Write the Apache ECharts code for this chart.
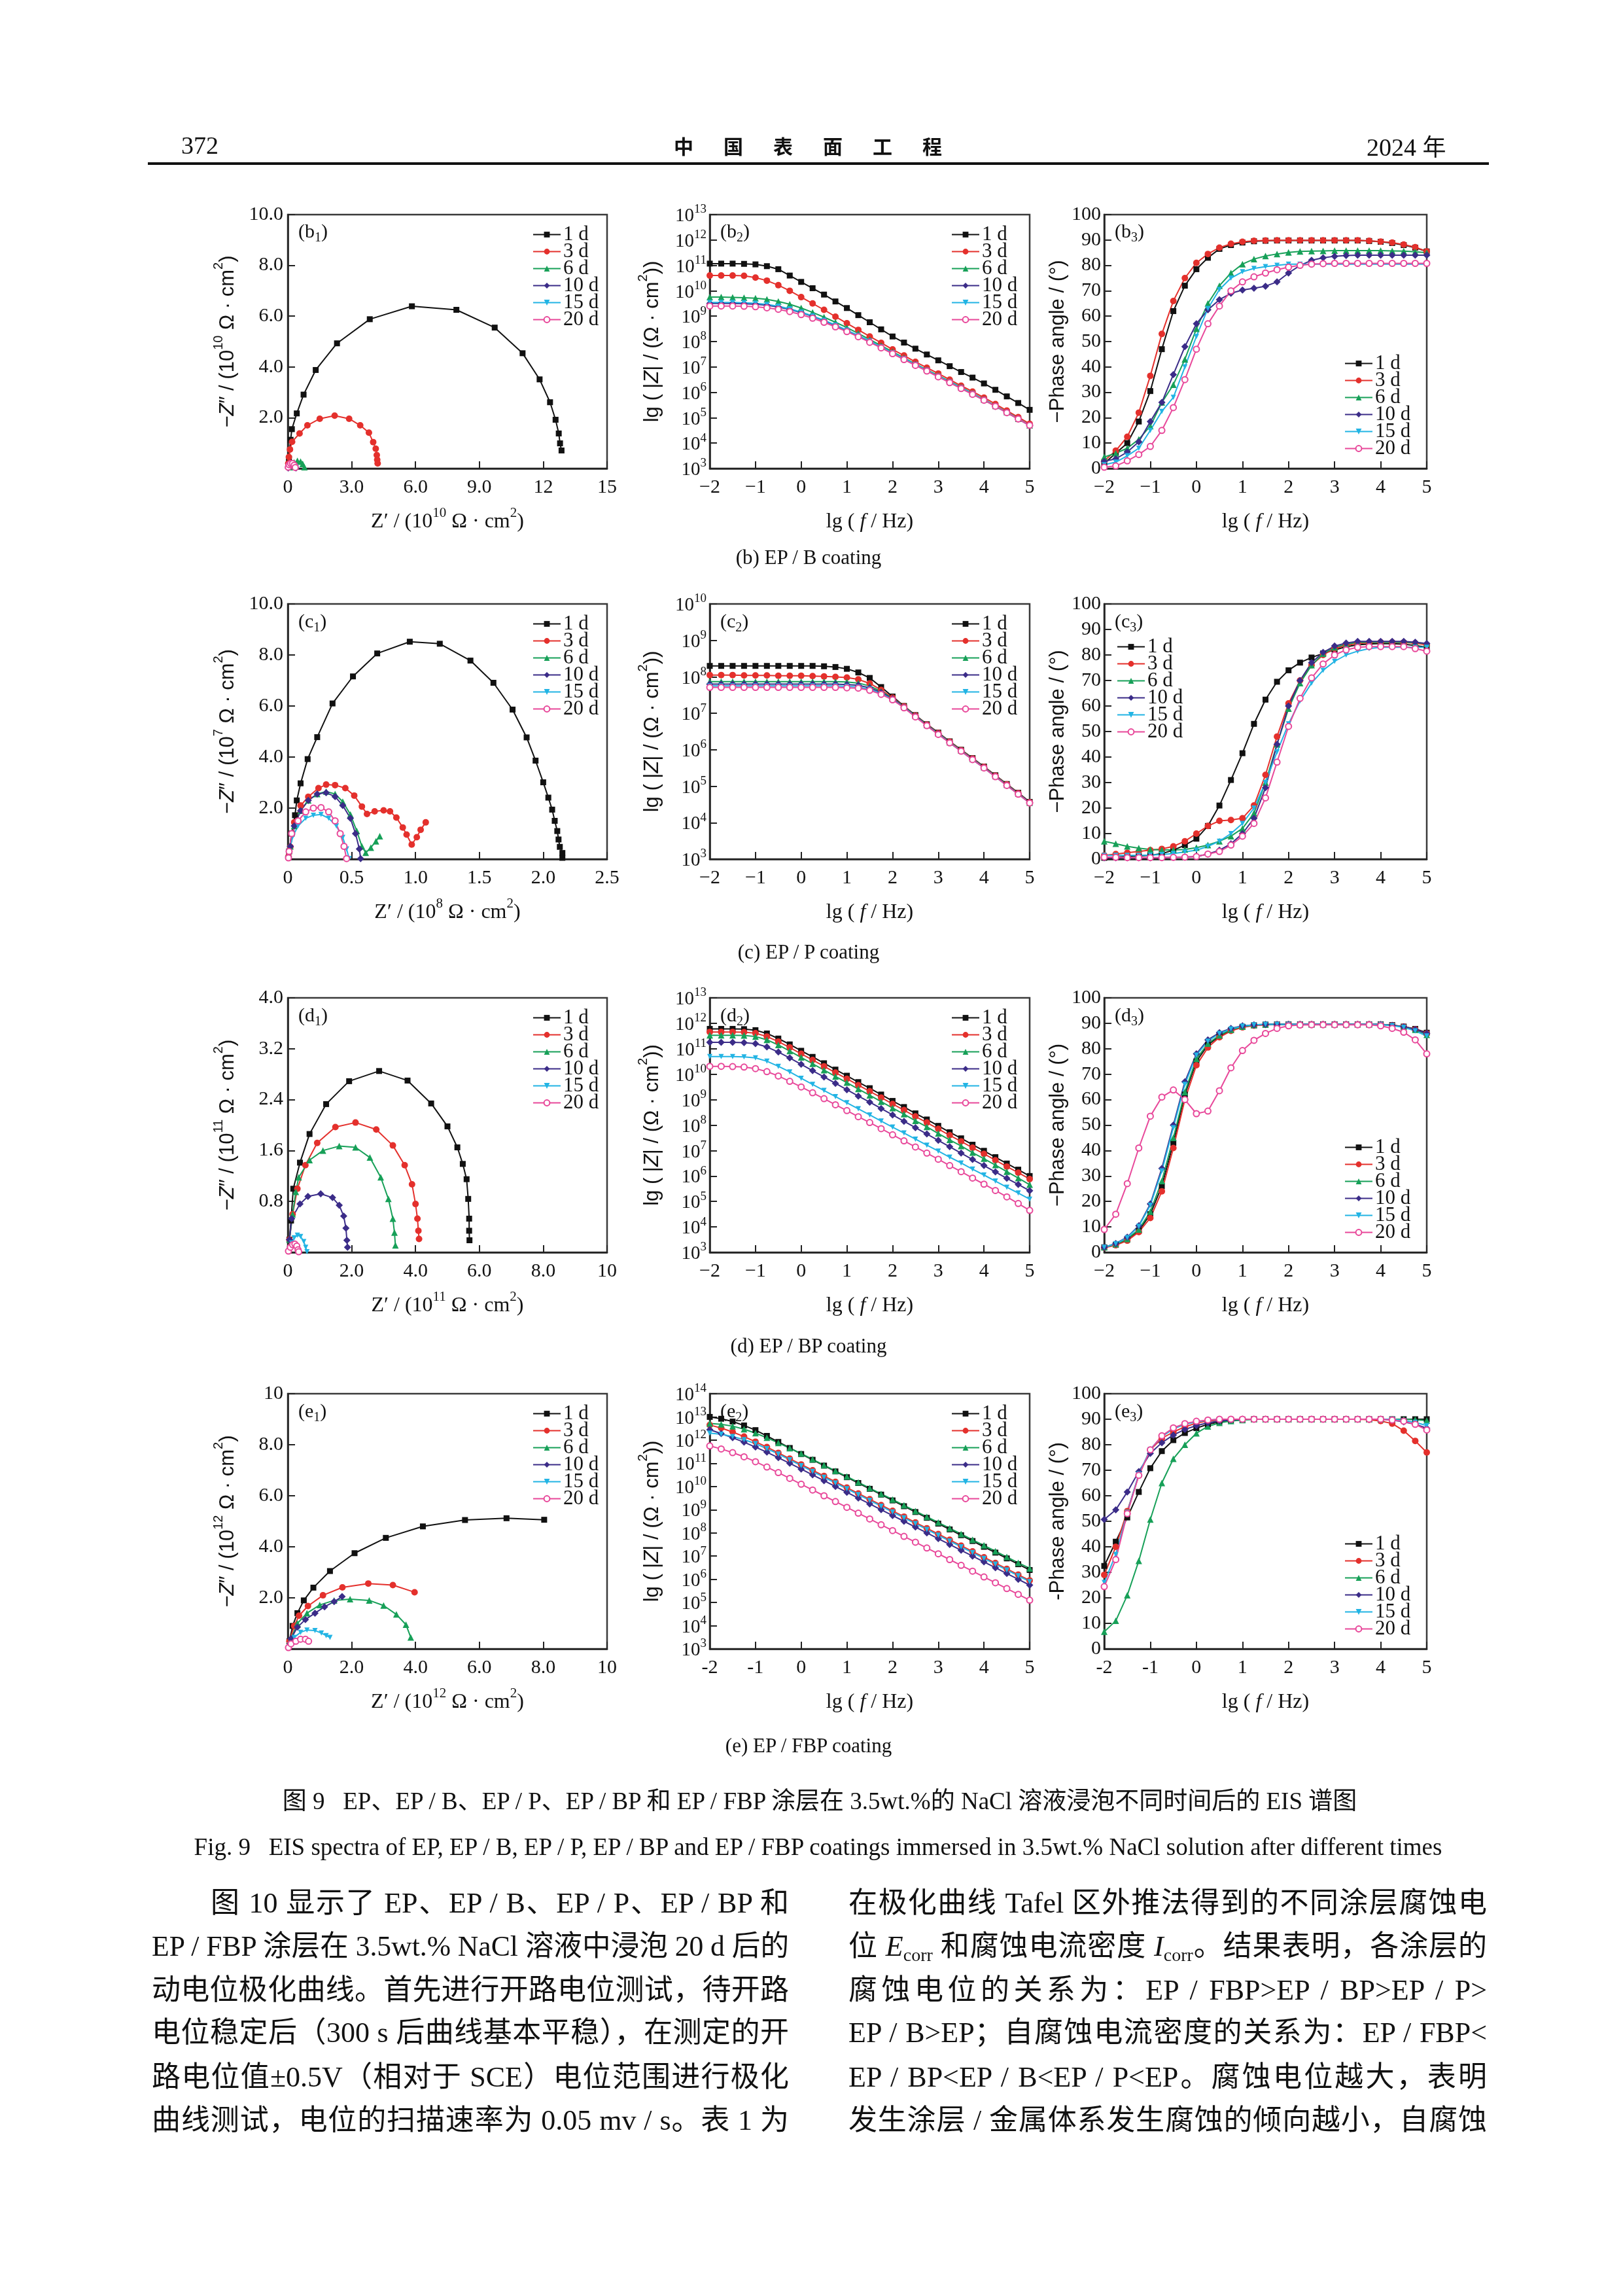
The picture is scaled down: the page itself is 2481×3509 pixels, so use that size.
<!DOCTYPE html>
<html lang="zh">
<head>
<meta charset="utf-8">
<title>EIS spectra</title>
<script src="https://cdn.jsdelivr.net/npm/echarts@6/dist/echarts.min.js"></script>
<style>
  html, body { margin: 0; padding: 0; background: #fff; }
  #page { position: relative; width: 2481px; height: 3509px; overflow: hidden; color: #111;
          font-family: "Liberation Serif", "Noto Sans CJK SC", serif; }
  #chart { position: absolute; left: 0; top: 0; width: 2481px; height: 3509px; }
  .t { position: absolute; white-space: nowrap; z-index: 2; }
  .fit span { display: inline-block; white-space: nowrap; transform-origin: 0 50%; }
  .cjk { font-family: "Noto Sans CJK SC", sans-serif; }
  .body { font-size: 44px; line-height: 66px; }
  .plab { font-size: 30px; line-height: 32px; }
  .plab sub { font-size: 20px; vertical-align: -6px; line-height: 0; }
  .body sub { font-size: 28px; vertical-align: -8px; line-height: 0; }
  .cap { font-size: 31px; line-height: 36px; left: 636px; width: 1200px; text-align: center; }
</style>
</head>
<body>
<div id="page">
  <div id="chart"></div>

  <!-- running head -->
  <div class="t" style="left:277px;top:200px;font-size:38px;line-height:44px;">372</div>
  <div class="t cjk" style="left:1030px;top:202px;font-size:30px;line-height:40px;font-weight:bold;letter-spacing:46px;">中国表面工程</div>
  <div class="t" style="left:2089px;top:200px;font-size:38px;line-height:44px;">2024 <span class="cjk" style="font-size:36px;">年</span></div>
  <div class="t" style="left:226px;top:248px;width:2050px;height:4px;background:#111;"></div>

  <!-- panel labels -->
  <div class="t plab" style="left:456px;top:337px;">(b<sub>1</sub>)</div>
  <div class="t plab" style="left:1101px;top:337px;">(b<sub>2</sub>)</div>
  <div class="t plab" style="left:1704px;top:337px;">(b<sub>3</sub>)</div>
  <div class="t plab" style="left:456px;top:933px;">(c<sub>1</sub>)</div>
  <div class="t plab" style="left:1101px;top:933px;">(c<sub>2</sub>)</div>
  <div class="t plab" style="left:1704px;top:933px;">(c<sub>3</sub>)</div>
  <div class="t plab" style="left:456px;top:1535px;">(d<sub>1</sub>)</div>
  <div class="t plab" style="left:1101px;top:1535px;">(d<sub>2</sub>)</div>
  <div class="t plab" style="left:1704px;top:1535px;">(d<sub>3</sub>)</div>
  <div class="t plab" style="left:456px;top:2140px;">(e<sub>1</sub>)</div>
  <div class="t plab" style="left:1101px;top:2140px;">(e<sub>2</sub>)</div>
  <div class="t plab" style="left:1704px;top:2140px;">(e<sub>3</sub>)</div>

  <!-- row captions -->
  <div class="t cap" style="top:834px;">(b) EP / B coating</div>
  <div class="t cap" style="top:1437px;">(c) EP / P coating</div>
  <div class="t cap" style="top:2039px;">(d) EP / BP coating</div>
  <div class="t cap" style="top:2650px;">(e) EP / FBP coating</div>

  <!-- figure captions -->
  <div class="t fit" style="left:408px;width:1690px;top:2731px;font-size:37px;line-height:44px;"><span>图 9&nbsp;&nbsp;&nbsp;EP、EP / B、EP / P、EP / BP 和 EP / FBP 涂层在 3.5wt.%的 NaCl 溶液浸泡不同时间后的 EIS 谱图</span></div>
  <div class="t fit" style="left:273px;width:1955px;top:2801px;font-size:37px;line-height:44px;"><span>Fig. 9&nbsp;&nbsp;&nbsp;EIS spectra of EP, EP / B, EP / P, EP / BP and EP / FBP coatings immersed in 3.5wt.% NaCl solution after different times</span></div>

  <!-- body text, left column -->
  <div class="t fit body" style="left:322px;width:884px;top:2876px;"><span>图 10 显示了 EP、EP / B、EP / P、EP / BP 和</span></div>
  <div class="t fit body" style="left:232px;width:974px;top:2942px;"><span>EP / FBP 涂层在 3.5wt.% NaCl 溶液中浸泡 20 d 后的</span></div>
  <div class="t fit body" style="left:232px;width:974px;top:3009px;"><span>动电位极化曲线。首先进行开路电位测试，待开路</span></div>
  <div class="t fit body" style="left:232px;width:974px;top:3074px;"><span>电位稳定后（300 s 后曲线基本平稳），在测定的开</span></div>
  <div class="t fit body" style="left:232px;width:974px;top:3142px;"><span>路电位值±0.5V（相对于 SCE）电位范围进行极化</span></div>
  <div class="t fit body" style="left:232px;width:974px;top:3208px;"><span>曲线测试，电位的扫描速率为 0.05 mv / s。表 1 为</span></div>

  <!-- body text, right column -->
  <div class="t fit body" style="left:1297px;width:976px;top:2876px;"><span>在极化曲线 Tafel 区外推法得到的不同涂层腐蚀电</span></div>
  <div class="t fit body" style="left:1297px;width:976px;top:2942px;"><span>位 <i>E</i><sub>corr</sub> 和腐蚀电流密度 <i>I</i><sub>corr</sub>。结果表明，各涂层的</span></div>
  <div class="t fit body" style="left:1297px;width:976px;top:3009px;"><span>腐蚀电位的关系为：EP / FBP&gt;EP / BP&gt;EP / P&gt;</span></div>
  <div class="t fit body" style="left:1297px;width:976px;top:3074px;"><span>EP / B&gt;EP；自腐蚀电流密度的关系为：EP / FBP&lt;</span></div>
  <div class="t fit body" style="left:1297px;width:976px;top:3142px;"><span>EP / BP&lt;EP / B&lt;EP / P&lt;EP。腐蚀电位越大，表明</span></div>
  <div class="t fit body" style="left:1297px;width:976px;top:3208px;"><span>发生涂层 / 金属体系发生腐蚀的倾向越小，自腐蚀</span></div>
</div>

<script>
// ---------- data ----------
const days = ['1 d', '3 d', '6 d', '10 d', '15 d', '20 d'];

// frequency grid of the Bode plots, lg(f/Hz)
const lgF = [-2, -1.75, -1.5, -1.25, -1, -0.75, -0.5, -0.25, 0, 0.25, 0.5, 0.75, 1, 1.25, 1.5,
  1.75, 2, 2.25, 2.5, 2.75, 3, 3.25, 3.5, 3.75, 4, 4.25, 4.5, 4.75, 5];

// (b) EP/B : Nyquist, Z' and -Z'' in 1e10 ohm cm2
const b1_1d = [[0.05, 0.4], [0.13, 1.13], [0.19, 1.55], [0.42, 2.17], [0.74, 2.91], [1.31, 3.88], [2.31, 4.93], [3.85, 5.88], [5.83, 6.39], [7.92, 6.25], [9.72, 5.55], [11.03, 4.54], [11.83, 3.51], [12.32, 2.61], [12.58, 1.92], [12.73, 1.38], [12.79, 0.99], [12.86, 0.71]];
const b1_3d = [[0.02, 0.2], [0.05, 0.45], [0.1, 0.75], [0.2, 1.05], [0.55, 1.38], [0.92, 1.7], [1.5, 1.96], [2.2, 2.08], [2.88, 1.96], [3.4, 1.7], [3.81, 1.41], [4.01, 1.04], [4.13, 0.78], [4.18, 0.53], [4.2, 0.34], [4.22, 0.2]];
const b1_6d = [[0.1, 0.05], [0.2, 0.15], [0.3, 0.24], [0.45, 0.3], [0.6, 0.27], [0.7, 0.18], [0.78, 0.05]];
const b1_10d = [[0.02, 0.02], [0.08, 0.08], [0.15, 0.12], [0.25, 0.13], [0.33, 0.08], [0.38, 0.02]];
const b1_15d = [[0.02, 0.03], [0.08, 0.1], [0.16, 0.15], [0.26, 0.15], [0.34, 0.1], [0.4, 0.03]];
const b1_20d = [[0.02, 0.05], [0.06, 0.15], [0.13, 0.2], [0.22, 0.2], [0.3, 0.13], [0.35, 0.04]];
// (b) Bode |Z|, lg(|Z|)
const b2_1d = [11.07, 11.07, 11.07, 11.06, 11.04, 10.97, 10.85, 10.6, 10.35, 10.1, 9.85, 9.58, 9.32, 9.04, 8.76, 8.48, 8.2, 7.96, 7.72, 7.49, 7.26, 7.03, 6.8, 6.58, 6.35, 6.1, 5.84, 5.58, 5.31];
const b2_3d = [10.6, 10.6, 10.6, 10.59, 10.52, 10.4, 10.22, 10.0, 9.75, 9.5, 9.25, 8.98, 8.72, 8.46, 8.2, 7.95, 7.69, 7.45, 7.2, 6.97, 6.74, 6.5, 6.26, 6.03, 5.79, 5.54, 5.28, 5.02, 4.76];
const b2_6d = [9.75, 9.75, 9.74, 9.73, 9.71, 9.66, 9.58, 9.47, 9.32, 9.15, 8.96, 8.76, 8.55, 8.32, 8.08, 7.84, 7.6, 7.36, 7.12, 6.89, 6.66, 6.43, 6.2, 5.96, 5.72, 5.47, 5.22, 4.96, 4.7];
const b2_10d = [9.5, 9.5, 9.5, 9.49, 9.47, 9.43, 9.36, 9.26, 9.14, 8.99, 8.82, 8.63, 8.43, 8.22, 8.0, 7.77, 7.54, 7.31, 7.08, 6.85, 6.62, 6.39, 6.16, 5.93, 5.7, 5.45, 5.2, 4.95, 4.69];
const b2_15d = [9.54, 9.54, 9.54, 9.53, 9.51, 9.46, 9.39, 9.29, 9.16, 9.01, 8.84, 8.65, 8.45, 8.24, 8.02, 7.79, 7.56, 7.33, 7.1, 6.87, 6.64, 6.41, 6.18, 5.95, 5.71, 5.46, 5.21, 4.96, 4.7];
const b2_20d = [9.4, 9.4, 9.4, 9.39, 9.37, 9.33, 9.27, 9.18, 9.06, 8.92, 8.76, 8.58, 8.39, 8.19, 7.97, 7.75, 7.52, 7.29, 7.06, 6.84, 6.61, 6.38, 6.15, 5.92, 5.69, 5.45, 5.2, 4.95, 4.7];
// (b) Bode phase, degrees
const b3_1d = [2, 6, 10, 18.5, 30.5, 47, 62, 72, 78.5, 83, 86.5, 88, 89, 89.5, 89.7, 89.8, 89.8, 89.8, 89.8, 89.8, 89.8, 89.8, 89.8, 89.6, 89.3, 88.8, 88, 87, 85.5];
const b3_3d = [3, 7, 12.5, 22, 36.5, 53, 66, 75, 81, 84.5, 87, 88.5, 89.3, 89.7, 89.8, 89.9, 89.9, 89.9, 89.9, 89.9, 89.9, 89.9, 89.9, 89.7, 89.4, 89, 88.2, 87.2, 85.5];
const b3_6d = [4.5, 6, 8, 11.5, 16.7, 26, 33, 43, 55, 65, 72, 77, 80.5, 82.5, 83.7, 84.5, 85.1, 85.5, 85.6, 85.7, 85.8, 85.8, 85.8, 85.8, 85.8, 85.7, 85.6, 85.4, 85];
const b3_10d = [2.8, 3.8, 6.5, 10.5, 18.5, 26, 37, 48, 57, 62.5, 66.5, 69, 70.3, 71, 71.8, 73.5, 77, 80, 82, 83, 83.6, 83.9, 84, 84, 84, 84, 84, 84, 84];
const b3_15d = [1.5, 2.5, 5, 8, 15, 22.5, 28, 40, 52, 63, 70.5, 75, 77.5, 78.8, 79.5, 80, 80.5, 80.5, 80.5, 80.5, 80.5, 80.5, 80.5, 80.5, 80.5, 80.5, 80.5, 80.5, 80.5];
const b3_20d = [0.5, 1, 3, 5.5, 8.7, 15, 24, 35, 47, 57, 64, 70, 73.5, 75.5, 77, 78.3, 79.3, 80, 80.5, 80.7, 80.8, 80.8, 80.8, 80.8, 80.8, 80.8, 80.8, 80.8, 80.8];

// (c) EP/P : Nyquist, Z' in 1e8, -Z'' in 1e7 ohm cm2
const c1_1d = [[0.01, 0.3], [0.03, 1.0], [0.056, 1.72], [0.07, 2.3], [0.1, 2.97], [0.155, 3.92], [0.23, 4.78], [0.35, 6.1], [0.51, 7.16], [0.7, 8.06], [0.955, 8.52], [1.19, 8.44], [1.43, 7.78], [1.61, 6.91], [1.76, 5.86], [1.87, 4.77], [1.94, 3.86], [2.0, 3.01], [2.04, 2.41], [2.07, 1.94], [2.09, 1.5], [2.11, 1.1], [2.12, 0.77], [2.13, 0.48], [2.15, 0.24], [2.15, 0.05]];
const c1_3d = [[0.005, 0.1], [0.02, 0.48], [0.05, 1.44], [0.1, 2.1], [0.16, 2.44], [0.24, 2.78], [0.3, 2.92], [0.37, 2.9], [0.45, 2.78], [0.52, 2.49], [0.58, 2.06], [0.62, 1.77], [0.68, 1.87], [0.75, 1.91], [0.8, 1.87], [0.85, 1.63], [0.9, 1.24], [0.93, 0.96], [0.97, 0.57], [1.01, 0.86], [1.04, 1.15], [1.08, 1.44]];
const c1_6d = [[0.005, 0.1], [0.02, 0.5], [0.05, 1.3], [0.1, 1.9], [0.16, 2.3], [0.23, 2.55], [0.3, 2.65], [0.37, 2.55], [0.43, 2.25], [0.49, 1.75], [0.54, 1.1], [0.58, 0.5], [0.61, 0.25], [0.65, 0.45], [0.69, 0.7], [0.72, 0.9]];
const c1_10d = [[0.005, 0.1], [0.02, 0.5], [0.05, 1.3], [0.1, 1.9], [0.16, 2.3], [0.23, 2.55], [0.3, 2.6], [0.37, 2.45], [0.43, 2.1], [0.49, 1.6], [0.53, 1.0], [0.56, 0.4], [0.57, 0.02]];
const c1_15d = [[0.005, 0.05], [0.01, 0.3], [0.04, 0.9], [0.08, 1.3], [0.14, 1.6], [0.2, 1.72], [0.26, 1.75], [0.32, 1.6], [0.38, 1.3], [0.43, 0.85], [0.46, 0.4], [0.48, 0.02]];
const c1_20d = [[0.005, 0.05], [0.01, 0.3], [0.03, 1.0], [0.08, 1.5], [0.14, 1.85], [0.2, 2.0], [0.26, 2.02], [0.32, 1.85], [0.37, 1.5], [0.41, 1.0], [0.44, 0.5], [0.46, 0.02]];
const c2_1d = [8.3, 8.3, 8.3, 8.3, 8.3, 8.3, 8.3, 8.3, 8.3, 8.3, 8.29, 8.27, 8.22, 8.12, 7.97, 7.72, 7.46, 7.2, 6.95, 6.7, 6.47, 6.23, 6.0, 5.77, 5.54, 5.3, 5.06, 4.82, 4.57];
const c2_3d = [8.05, 8.05, 8.05, 8.04, 8.04, 8.04, 8.03, 8.03, 8.03, 8.02, 8.01, 8.0, 7.98, 7.93, 7.82, 7.64, 7.43, 7.19, 6.94, 6.69, 6.46, 6.22, 5.99, 5.76, 5.53, 5.29, 5.05, 4.81, 4.56];
const c2_6d = [7.87, 7.87, 7.87, 7.87, 7.87, 7.87, 7.87, 7.87, 7.87, 7.87, 7.87, 7.87, 7.86, 7.83, 7.75, 7.6, 7.41, 7.18, 6.93, 6.68, 6.45, 6.21, 5.98, 5.75, 5.52, 5.28, 5.04, 4.8, 4.55];
const c2_10d = [7.8, 7.8, 7.8, 7.8, 7.8, 7.8, 7.8, 7.8, 7.8, 7.8, 7.8, 7.8, 7.79, 7.77, 7.7, 7.57, 7.4, 7.17, 6.92, 6.67, 6.44, 6.2, 5.97, 5.74, 5.51, 5.27, 5.03, 4.79, 4.55];
const c2_15d = [7.75, 7.75, 7.75, 7.75, 7.75, 7.75, 7.75, 7.75, 7.75, 7.75, 7.75, 7.75, 7.74, 7.72, 7.66, 7.54, 7.38, 7.16, 6.91, 6.66, 6.43, 6.19, 5.96, 5.73, 5.5, 5.26, 5.02, 4.78, 4.54];
const c2_20d = [7.71, 7.71, 7.71, 7.71, 7.71, 7.71, 7.71, 7.71, 7.71, 7.71, 7.71, 7.71, 7.7, 7.69, 7.63, 7.52, 7.37, 7.15, 6.9, 6.66, 6.42, 6.19, 5.96, 5.73, 5.5, 5.26, 5.02, 4.78, 4.54];
const c3_1d = [0.5, 0.8, 1, 1.2, 1.5, 2.2, 3.5, 5.5, 8, 13, 21, 31, 41.5, 53, 62.5, 69.5, 74, 77, 79, 80.6, 82, 83.2, 84, 84.3, 84.5, 84.4, 84.2, 83.7, 83];
const c3_3d = [1.5, 2, 2.5, 3, 3.5, 4, 5, 7, 10, 13, 15, 15.3, 16, 21, 33, 48, 61, 70, 76, 80, 82.5, 83.8, 84.5, 84.8, 85, 85, 84.9, 84.6, 84];
const c3_6d = [7, 6, 5, 4.3, 3.8, 3.6, 3.6, 3.8, 4.5, 5.5, 7, 9, 12, 18, 30, 45, 59, 69, 76, 80.5, 83, 84.2, 85, 85, 85, 85, 85, 84.8, 84.5];
const c3_10d = [0.5, 0.5, 0.5, 0.5, 0.5, 0.6, 0.7, 0.8, 1, 2, 3.5, 6, 10, 16, 28, 45, 60, 70, 77, 81, 83.5, 84.7, 85.3, 85.3, 85.3, 85.3, 85.3, 85, 84.5];
const c3_15d = [1.5, 1.5, 1.5, 1.5, 1.6, 1.8, 2.2, 2.8, 3.5, 5, 7, 10, 14, 20, 30, 42, 53, 62, 69, 74, 77.5, 80, 81.5, 82.5, 83, 83, 83, 83, 83];
const c3_20d = [0.8, 0.7, 0.6, 0.6, 0.6, 0.6, 0.7, 0.8, 1, 2, 3, 5.5, 9, 14, 24, 38, 52, 63, 71, 76.5, 80, 82, 83, 83.3, 83.3, 83.3, 83.3, 82.5, 81.5];

// (d) EP/BP : Nyquist in 1e11 ohm cm2
const d1_1d = [[0.05, 0.2], [0.1, 0.5], [0.17, 1.0], [0.38, 1.41], [0.68, 1.86], [1.2, 2.33], [1.92, 2.69], [2.86, 2.85], [3.75, 2.7], [4.49, 2.34], [5.0, 1.98], [5.31, 1.65], [5.48, 1.39], [5.6, 1.15], [5.65, 0.84], [5.68, 0.53], [5.68, 0.34], [5.69, 0.19]];
const d1_3d = [[0.05, 0.2], [0.15, 0.6], [0.3, 1.0], [0.55, 1.37], [0.92, 1.72], [1.49, 1.97], [2.12, 2.04], [2.77, 1.93], [3.29, 1.68], [3.66, 1.37], [3.89, 1.07], [4.0, 0.76], [4.06, 0.53], [4.09, 0.34], [4.11, 0.21]];
const d1_6d = [[0.05, 0.2], [0.15, 0.6], [0.25, 0.95], [0.34, 1.18], [0.68, 1.45], [1.1, 1.6], [1.61, 1.67], [2.12, 1.65], [2.57, 1.49], [2.91, 1.18], [3.15, 0.84], [3.29, 0.53], [3.34, 0.31], [3.37, 0.11]];
const d1_10d = [[0.05, 0.2], [0.12, 0.53], [0.38, 0.76], [0.63, 0.88], [1.03, 0.92], [1.4, 0.86], [1.61, 0.74], [1.75, 0.57], [1.82, 0.38], [1.85, 0.19], [1.87, 0.08]];
const d1_15d = [[0.05, 0.05], [0.12, 0.15], [0.2, 0.23], [0.3, 0.27], [0.4, 0.25], [0.5, 0.17], [0.56, 0.08], [0.6, 0.01]];
const d1_20d = [[0.02, 0.02], [0.08, 0.08], [0.15, 0.12], [0.22, 0.13], [0.28, 0.1], [0.32, 0.04], [0.34, 0.01]];
const d2_1d = [11.78, 11.78, 11.78, 11.77, 11.73, 11.6, 11.4, 11.17, 10.92, 10.68, 10.43, 10.18, 9.94, 9.69, 9.45, 9.2, 8.95, 8.71, 8.46, 8.22, 7.97, 7.72, 7.48, 7.23, 6.99, 6.74, 6.49, 6.25, 6.0];
const d2_3d = [11.66, 11.66, 11.66, 11.65, 11.61, 11.48, 11.28, 11.05, 10.8, 10.56, 10.31, 10.06, 9.82, 9.57, 9.33, 9.08, 8.83, 8.59, 8.34, 8.1, 7.85, 7.6, 7.36, 7.11, 6.87, 6.62, 6.37, 6.13, 5.88];
const d2_6d = [11.53, 11.53, 11.53, 11.52, 11.48, 11.35, 11.15, 10.91, 10.66, 10.41, 10.16, 9.91, 9.67, 9.42, 9.17, 8.92, 8.67, 8.43, 8.17, 7.93, 7.67, 7.42, 7.18, 6.92, 6.68, 6.43, 6.17, 5.92, 5.66];
const d2_10d = [11.25, 11.25, 11.25, 11.24, 11.2, 11.07, 10.87, 10.64, 10.39, 10.14, 9.89, 9.64, 9.39, 9.14, 8.9, 8.65, 8.4, 8.15, 7.9, 7.65, 7.4, 7.15, 6.9, 6.65, 6.41, 6.16, 5.91, 5.67, 5.42];
const d2_15d = [10.69, 10.69, 10.69, 10.68, 10.64, 10.51, 10.31, 10.09, 9.84, 9.6, 9.36, 9.12, 8.88, 8.64, 8.4, 8.16, 7.92, 7.69, 7.45, 7.21, 6.98, 6.74, 6.51, 6.27, 6.04, 5.8, 5.56, 5.33, 5.09];
const d2_20d = [10.31, 10.31, 10.3, 10.28, 10.22, 10.1, 9.93, 9.72, 9.5, 9.27, 9.04, 8.8, 8.57, 8.33, 8.1, 7.86, 7.62, 7.38, 7.14, 6.9, 6.66, 6.41, 6.17, 5.92, 5.68, 5.43, 5.18, 4.92, 4.65];
const d3_1d = [2, 3, 5, 8.5, 15, 26, 43, 62, 75, 81.5, 85, 87.3, 88.6, 89.2, 89.5, 89.6, 89.6, 89.6, 89.6, 89.6, 89.6, 89.6, 89.6, 89.6, 89.6, 89.3, 88.7, 87.8, 86.3];
const d3_3d = [1.8, 2.8, 4.6, 8, 13.5, 24, 41, 60, 73.5, 80.5, 84.5, 87, 88.4, 89.1, 89.4, 89.5, 89.6, 89.6, 89.6, 89.6, 89.6, 89.6, 89.6, 89.6, 89.5, 89.2, 88.6, 87.6, 86];
const d3_6d = [2, 3.2, 5.3, 9, 16, 28, 45, 63, 76, 82, 85.3, 87.5, 88.7, 89.3, 89.5, 89.6, 89.6, 89.6, 89.6, 89.6, 89.6, 89.6, 89.6, 89.6, 89.5, 89.2, 88.6, 87.5, 85.5];
const d3_10d = [2, 3.5, 6, 10.5, 19, 33, 50, 67, 78, 83.5, 86.3, 88, 89, 89.4, 89.6, 89.6, 89.6, 89.6, 89.6, 89.6, 89.6, 89.6, 89.6, 89.6, 89.5, 89.2, 88.6, 87.6, 86];
const d3_15d = [2, 3.4, 5.8, 10.2, 18.5, 32, 49, 66, 77.5, 83, 86, 87.8, 88.9, 89.4, 89.6, 89.6, 89.6, 89.6, 89.6, 89.6, 89.6, 89.6, 89.6, 89.6, 89.5, 89.1, 88.4, 87, 85];
const d3_20d = [9, 15, 27, 41, 53.5, 61, 63.8, 60, 54.5, 55.5, 63.5, 72.5, 79.3, 83.3, 86, 88, 89, 89.3, 89.4, 89.4, 89.4, 89.4, 89.4, 89.4, 89, 88, 86.5, 83.5, 78];

// (e) EP/FBP : Nyquist in 1e12 ohm cm2
const e1_1d = [[0.05, 0.3], [0.15, 0.9], [0.3, 1.4], [0.5, 1.9], [0.8, 2.4], [1.32, 3.05], [2.09, 3.75], [3.07, 4.35], [4.23, 4.8], [5.55, 5.05], [6.85, 5.12], [8.03, 5.06]];
const e1_3d = [[0.05, 0.3], [0.2, 0.9], [0.35, 1.3], [0.63, 1.68], [1.1, 2.1], [1.71, 2.41], [2.52, 2.56], [3.29, 2.5], [3.97, 2.22]];
const e1_6d = [[0.1, 0.4], [0.3, 1.0], [0.6, 1.4], [1.0, 1.72], [1.45, 1.9], [1.95, 1.95], [2.55, 1.9], [3.0, 1.7], [3.4, 1.35], [3.7, 0.95], [3.85, 0.45]];
const e1_10d = [[0.1, 0.4], [0.3, 0.85], [0.55, 1.15], [0.85, 1.4], [1.15, 1.65], [1.45, 1.85], [1.7, 2.05]];
const e1_15d = [[0.05, 0.15], [0.2, 0.45], [0.4, 0.65], [0.6, 0.74], [0.85, 0.72], [1.05, 0.62], [1.2, 0.52], [1.32, 0.45]];
const e1_20d = [[0.02, 0.05], [0.1, 0.2], [0.25, 0.3], [0.4, 0.38], [0.55, 0.38], [0.65, 0.3]];
const e2_1d = [13.0, 12.92, 12.8, 12.63, 12.43, 12.18, 11.92, 11.66, 11.4, 11.15, 10.9, 10.65, 10.4, 10.15, 9.9, 9.65, 9.4, 9.15, 8.9, 8.65, 8.4, 8.15, 7.9, 7.65, 7.4, 7.15, 6.9, 6.65, 6.4];
const e2_3d = [12.65, 12.52, 12.35, 12.15, 11.93, 11.7, 11.45, 11.2, 10.95, 10.7, 10.45, 10.2, 9.95, 9.7, 9.45, 9.2, 8.95, 8.7, 8.45, 8.2, 7.95, 7.7, 7.45, 7.2, 6.95, 6.7, 6.45, 6.2, 5.95];
const e2_6d = [12.72, 12.68, 12.6, 12.47, 12.3, 12.1, 11.88, 11.65, 11.42, 11.17, 10.92, 10.67, 10.43, 10.18, 9.93, 9.68, 9.44, 9.19, 8.94, 8.69, 8.45, 8.2, 7.95, 7.7, 7.46, 7.21, 6.96, 6.71, 6.47];
const e2_10d = [12.45, 12.28, 12.1, 11.91, 11.7, 11.48, 11.24, 11.0, 10.75, 10.5, 10.25, 10.0, 9.75, 9.5, 9.25, 9.0, 8.75, 8.5, 8.25, 8.0, 7.75, 7.5, 7.25, 7.0, 6.75, 6.5, 6.25, 6.0, 5.75];
const e2_15d = [12.3, 12.25, 12.15, 12.02, 11.85, 11.63, 11.4, 11.15, 10.9, 10.65, 10.4, 10.15, 9.9, 9.65, 9.4, 9.15, 8.9, 8.65, 8.4, 8.15, 7.9, 7.65, 7.4, 7.15, 6.9, 6.65, 6.4, 6.15, 5.9];
const e2_20d = [11.75, 11.62, 11.46, 11.28, 11.07, 10.84, 10.6, 10.35, 10.1, 9.85, 9.6, 9.35, 9.1, 8.85, 8.6, 8.35, 8.1, 7.85, 7.6, 7.35, 7.1, 6.85, 6.6, 6.35, 6.1, 5.85, 5.6, 5.35, 5.1];
const e3_1d = [32.5, 42, 51.5, 61.5, 70.8, 77.5, 81.8, 84.6, 86.5, 88, 89, 89.5, 89.8, 90, 90, 90, 90, 90, 90, 90, 90, 90, 90, 90, 90, 90, 90, 90, 90];
const e3_3d = [29, 40, 54, 68, 78, 82.5, 85, 87, 88.5, 89.3, 89.7, 90, 90, 90, 90, 90, 90, 90, 90, 90, 90, 90, 90, 89.8, 89.3, 88.3, 85.5, 81.5, 77];
const e3_6d = [6.7, 11, 21, 34.5, 50.7, 65, 74.5, 80, 84.5, 87.2, 88.6, 89.3, 89.7, 90, 90, 90, 90, 90, 90, 90, 90, 90, 90, 90, 90, 90, 90, 89.8, 89.5];
const e3_10d = [50.7, 54.5, 61.5, 69.5, 76.6, 80.8, 83.8, 86, 87.5, 88.6, 89.3, 89.7, 90, 90, 90, 90, 90, 90, 90, 90, 90, 90, 90, 90, 90, 89.7, 89, 88, 86.5];
const e3_15d = [26, 37, 53.5, 68.5, 78.2, 83.2, 86.2, 88, 89, 89.6, 90, 90, 90, 90, 90, 90, 90, 90, 90, 90, 90, 90, 90, 90, 90, 90, 89.5, 88.8, 87.5];
const e3_20d = [24.4, 35, 53, 68, 78, 83.5, 86.6, 88.3, 89.2, 89.7, 90, 90, 90, 90, 90, 90, 90, 90, 90, 90, 90, 90, 90, 90, 90, 89.7, 89.2, 88, 85.8];

// tick labels
const freqLabels = ['\u22122', '\u22121', '0', '1', '2', '3', '4', '5'];
const freqLabelsE = ['-2', '-1', '0', '1', '2', '3', '4', '5'];
const phaseLabels = ['0', '10', '20', '30', '40', '50', '60', '70', '80', '90', '100'];
const b1XLabels = ['0', '3.0', '6.0', '9.0', '12', '15'];
const b1YLabels = ['', '2.0', '4.0', '6.0', '8.0', '10.0'];
const c1XLabels = ['0', '0.5', '1.0', '1.5', '2.0', '2.5'];
const c1YLabels = ['', '2.0', '4.0', '6.0', '8.0', '10.0'];
const d1XLabels = ['0', '2.0', '4.0', '6.0', '8.0', '10'];
const d1YLabels = ['', '0.8', '1.6', '2.4', '3.2', '4.0'];
const e1XLabels = ['0', '2.0', '4.0', '6.0', '8.0', '10'];
const e1YLabels = ['', '2.0', '4.0', '6.0', '8.0', '10'];

// ---------- styling & layout ----------
const SERIF = 'Liberation Serif';
const SANS = 'Liberation Sans';
const INK = '#111';
const dayColors = ['#111111', '#e4302c', '#17a058', '#3b2c88', '#22b4e4', '#e8489a'];
const daySymbols = ['rect', 'circle', 'triangle', 'diamond', 'triangle', 'emptyCircle'];
const daySymbolSize = [9, 10, 10, 11, 8, 9];
const daySymbolRotate = [0, 0, 0, 0, 180, 0];

const colLeft = [440, 1085, 1688];
const colWidth = [488, 489, 493];
const rowTop = [328, 923, 1525, 2130];
const rowHeight = [388, 390, 389, 390];

const panels = [
  { row: 0, col: 0, kind: 'nyq', data: [b1_1d, b1_3d, b1_6d, b1_10d, b1_15d, b1_20d], xMax: 15, xInt: 3, yMax: 10, yInt: 2, xLab: b1XLabels, yLab: b1YLabels, xExp: '10', yExp: '10', leg: 'tr' },
  { row: 0, col: 1, kind: 'mod', data: [b2_1d, b2_3d, b2_6d, b2_10d, b2_15d, b2_20d], yMin: 3, yMax: 13, leg: 'tr' },
  { row: 0, col: 2, kind: 'pha', data: [b3_1d, b3_3d, b3_6d, b3_10d, b3_15d, b3_20d], leg: 'br' },
  { row: 1, col: 0, kind: 'nyq', data: [c1_1d, c1_3d, c1_6d, c1_10d, c1_15d, c1_20d], xMax: 2.5, xInt: 0.5, yMax: 10, yInt: 2, xLab: c1XLabels, yLab: c1YLabels, xExp: '8', yExp: '7', leg: 'tr' },
  { row: 1, col: 1, kind: 'mod', data: [c2_1d, c2_3d, c2_6d, c2_10d, c2_15d, c2_20d], yMin: 3, yMax: 10, leg: 'tr' },
  { row: 1, col: 2, kind: 'pha', data: [c3_1d, c3_3d, c3_6d, c3_10d, c3_15d, c3_20d], leg: 'tl' },
  { row: 2, col: 0, kind: 'nyq', data: [d1_1d, d1_3d, d1_6d, d1_10d, d1_15d, d1_20d], xMax: 10, xInt: 2, yMax: 4, yInt: 0.8, xLab: d1XLabels, yLab: d1YLabels, xExp: '11', yExp: '11', leg: 'tr' },
  { row: 2, col: 1, kind: 'mod', data: [d2_1d, d2_3d, d2_6d, d2_10d, d2_15d, d2_20d], yMin: 3, yMax: 13, leg: 'tr' },
  { row: 2, col: 2, kind: 'pha', data: [d3_1d, d3_3d, d3_6d, d3_10d, d3_15d, d3_20d], leg: 'br' },
  { row: 3, col: 0, kind: 'nyq', data: [e1_1d, e1_3d, e1_6d, e1_10d, e1_15d, e1_20d], xMax: 10, xInt: 2, yMax: 10, yInt: 2, xLab: e1XLabels, yLab: e1YLabels, xExp: '12', yExp: '12', leg: 'tr' },
  { row: 3, col: 1, kind: 'mod', data: [e2_1d, e2_3d, e2_6d, e2_10d, e2_15d, e2_20d], yMin: 3, yMax: 14, leg: 'tr', dash: true },
  { row: 3, col: 2, kind: 'pha', data: [e3_1d, e3_3d, e3_6d, e3_10d, e3_15d, e3_20d], leg: 'br', dash: true }
];

const richSerif = {
  n: { fontFamily: SERIF, fontSize: 32, lineHeight: 40, verticalAlign: 'bottom', color: INK },
  i: { fontFamily: SERIF, fontSize: 32, lineHeight: 40, verticalAlign: 'bottom', fontStyle: 'italic', color: INK },
  s: { fontFamily: SERIF, fontSize: 21, lineHeight: 18, verticalAlign: 'top', color: INK }
};
const richSans = {
  n: { fontFamily: SANS, fontSize: 31, lineHeight: 40, verticalAlign: 'bottom', color: INK },
  i: { fontFamily: SANS, fontSize: 31, lineHeight: 40, verticalAlign: 'bottom', fontStyle: 'italic', color: INK },
  s: { fontFamily: SANS, fontSize: 20, lineHeight: 17, verticalAlign: 'top', color: INK }
};
const richPow = {
  n: { fontFamily: SERIF, fontSize: 29, lineHeight: 34, verticalAlign: 'bottom', color: INK },
  s: { fontFamily: SERIF, fontSize: 19, lineHeight: 14, verticalAlign: 'top', color: INK }
};

function baseAxis(gi) {
  return {
    type: 'value', gridIndex: gi,
    axisLine: { show: true, onZero: false, lineStyle: { color: '#222', width: 2.5 } },
    axisTick: { show: true, inside: true, length: 11, lineStyle: { color: '#222', width: 2 } },
    splitLine: { show: false },
    nameLocation: 'middle'
  };
}

const grids = [], xAxes = [], yAxes = [], series = [], legends = [];

panels.forEach(function (p, gi) {
  const left = colLeft[p.col], top = rowTop[p.row];
  const w = colWidth[p.col], h = rowHeight[p.row];
  grids.push({ left: left, top: top, width: w, height: h, show: true, borderColor: '#3a3a3a', borderWidth: 2.5 });

  const xa = baseAxis(gi), ya = baseAxis(gi);
  xa.axisLabel = { fontFamily: SERIF, fontSize: 30, color: INK, margin: 14 };
  ya.axisLabel = { fontFamily: SERIF, fontSize: 30, color: INK, margin: 7 };
  xa.nameGap = 58;
  xa.nameTextStyle = { rich: richSerif };
  ya.nameRotate = 90;
  ya.nameTextStyle = { rich: richSans };

  if (p.kind === 'nyq') {
    xa.min = 0; xa.max = p.xMax; xa.interval = p.xInt;
    ya.min = 0; ya.max = p.yMax; ya.interval = p.yInt;
    xa.axisLabel.formatter = function (v) { return p.xLab[Math.round(v / p.xInt)] || ''; };
    ya.axisLabel.formatter = function (v) { return p.yLab[Math.round(v / p.yInt)] || ''; };
    xa.name = '{n|Z\u2032 / (10}{s|' + p.xExp + '}{n| \u03A9 \u00B7 cm}{s|2}{n|)}';
    ya.name = '{n|\u2212}{i|Z}{n|\u2033 / (10}{s|' + p.yExp + '}{n| \u03A9 \u00B7 cm}{s|2}{n|)}';
    ya.nameGap = 76;
  } else {
    const fl = p.dash ? freqLabelsE : freqLabels;
    xa.min = -2; xa.max = 5; xa.interval = 1;
    xa.axisLabel.formatter = function (v) { return fl[Math.round(v + 2)]; };
    xa.name = '{n|lg ( }{i|f}{n| / Hz)}';
    if (p.kind === 'mod') {
      ya.min = p.yMin; ya.max = p.yMax; ya.interval = 1;
      ya.axisLabel.formatter = function (v) { return '{n|10}{s|' + Math.round(v) + '}'; };
      ya.axisLabel.rich = richPow;
      ya.axisLabel.margin = 5;
      ya.name = '{n|lg ( |}{i|Z}{n|| / (\u03A9 \u00B7 cm}{s|2}{n|))}';
      ya.nameGap = 72;
    } else {
      ya.min = 0; ya.max = 100; ya.interval = 10;
      ya.axisLabel.formatter = function (v) { return phaseLabels[Math.round(v / 10)]; };
      ya.axisLabel.margin = 5;
      ya.name = '{n|' + (p.dash ? '-' : '\u2212') + 'Phase angle / (\u00B0)}';
      ya.nameGap = 55;
    }
  }
  xAxes.push(xa);
  yAxes.push(ya);

  p.data.forEach(function (arr, k) {
    series.push({
      name: days[k], type: 'line', xAxisIndex: gi, yAxisIndex: gi,
      data: p.kind === 'nyq' ? arr : lgF.map(function (f, i) { return [f, arr[i]]; }),
      symbol: daySymbols[k], symbolSize: daySymbolSize[k], symbolRotate: daySymbolRotate[k],
      showAllSymbol: true, clip: true,
      itemStyle: { color: dayColors[k] },
      lineStyle: { color: dayColors[k], width: 2 },
      emphasis: { disabled: true }
    });
  });

  let lx, ly;
  if (p.leg === 'tr') { lx = left + w - (p.col === 0 ? 114 : 120); ly = top + 15; }
  else if (p.leg === 'br') { lx = left + w - 126; ly = top + h - 176; }
  else { lx = left + 19; ly = top + 50; }
  legends.push({
    data: days, orient: 'vertical', left: lx, top: ly, padding: 0,
    itemWidth: 42, itemHeight: 11, itemGap: -5, selectedMode: false,
    textStyle: { fontFamily: SERIF, fontSize: 31, color: INK, padding: [0, 0, 0, -1] }
  });
});

const chart = echarts.init(document.getElementById('chart'), null, { renderer: 'canvas' });
chart.setOption({
  backgroundColor: '#ffffff',
  animation: false,
  grid: grids,
  xAxis: xAxes,
  yAxis: yAxes,
  legend: legends,
  series: series
});

// fit the text lines to their measured widths
document.querySelectorAll('.fit').forEach(function (el) {
  const span = el.firstElementChild;
  const target = el.clientWidth;
  const wNat = span.getBoundingClientRect().width;
  if (wNat > target) {
    span.style.transform = 'scaleX(' + (target / wNat) + ')';
  } else if (el.classList.contains('body')) {
    span.style.display = 'block';
    span.style.textAlign = 'justify';
    span.style.textAlignLast = 'justify';
  } else {
    el.style.textAlign = 'center';
  }
});
</script>
</body>
</html>
